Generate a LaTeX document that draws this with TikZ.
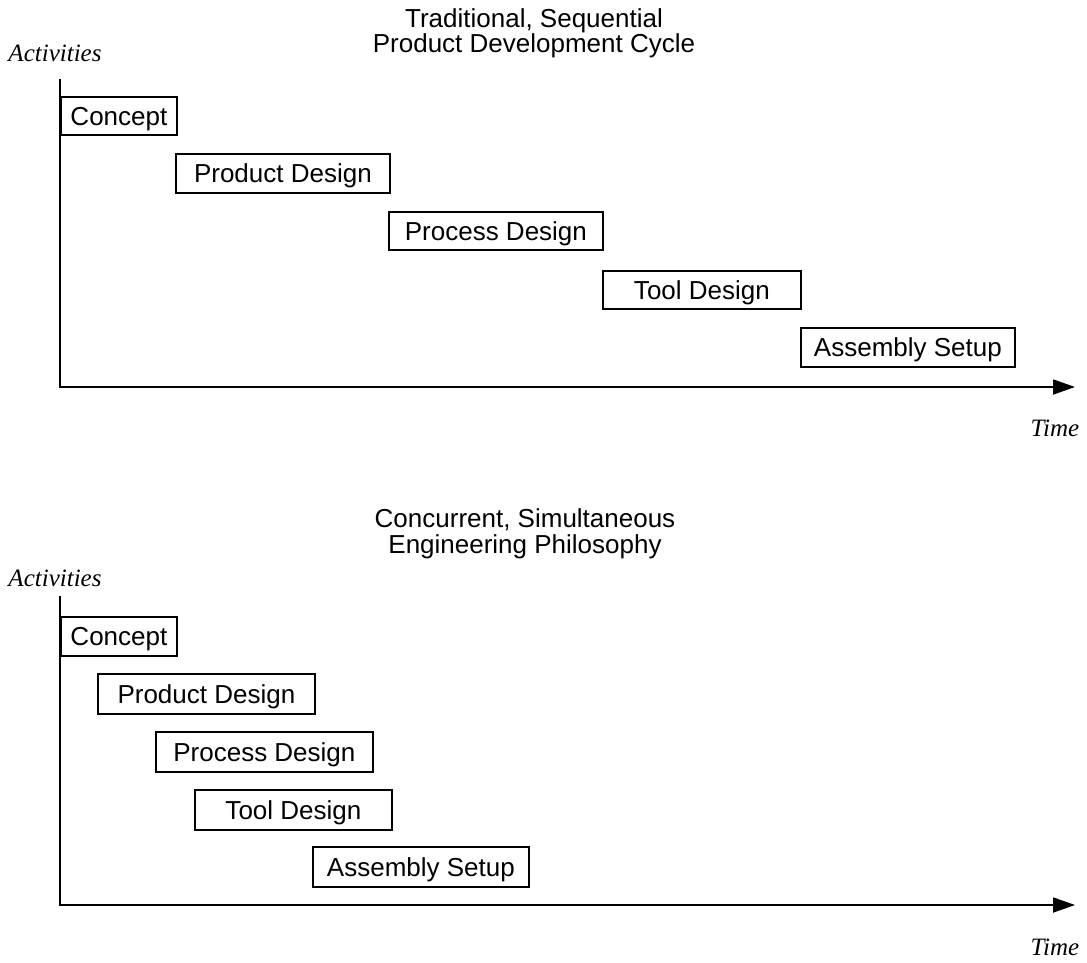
\documentclass[tikz,border=0pt]{standalone}
\usepackage{fontspec}
\setmainfont{Liberation Sans}
\newfontfamily\timesfont{Liberation Serif}
\usetikzlibrary{arrows.meta}
\tikzset{
  phase/.style={draw, line width=1.8pt, inner sep=0pt, anchor=north west,
    text height=18.6pt, text depth=0pt,
    font=\fontsize{26}{26}\selectfont},
  ttl/.style={anchor=base, inner sep=0pt, font=\fontsize{26}{26}\selectfont},
  axlabel/.style={inner sep=0pt, font=\timesfont\itshape\fontsize{25}{25}\selectfont},
  axis/.style={line width=1.8pt, line cap=rect},
  timeaxis/.style={line width=1.8pt, -{Triangle[length=22pt,width=15pt]}}
}
\newcommand{\phasebox}[6]{%
  \node[phase, minimum width={#4-#2}, minimum height={#5-#3}] (#1) at (#2,#3) {#6};}
\begin{document}
\begin{tikzpicture}[x=1pt,y=-1pt]
\fill[white] (0,0) rectangle (1087,962);
\useasboundingbox (0,0) rectangle (1087,962);
% ---------- top diagram ----------
\node[ttl] (t1a) at (534,27) {Traditional, Sequential};
\node[ttl] (t1b) at (534,52) {Product Development Cycle};
\node[axlabel] (act1) at (55,53) {Activities};
\coordinate (top1) at (60,80);
\coordinate (org1) at (60,387);
\coordinate (end1) at (1075,387);
\draw[axis] (top1) -- (org1);
\draw[timeaxis] (org1) -- (end1);
\node[axlabel] (time1) at (1055,428) {Time};
\phasebox{c1}{60}{96}{176}{134}{Concept}
\phasebox{pd1}{175}{153}{389}{192}{Product Design}
\phasebox{pr1}{388}{211}{602}{249}{Process Design}
\phasebox{td1}{602}{270}{800}{308}{Tool Design}
\phasebox{as1}{800}{327}{1014}{366}{Assembly Setup}
% ---------- bottom diagram ----------
\node[ttl] (t2a) at (525,527) {Concurrent, Simultaneous};
\node[ttl] (t2b) at (525,553) {Engineering Philosophy};
\node[axlabel] (act2) at (55,578) {Activities};
\coordinate (top2) at (60,597);
\coordinate (org2) at (60,905);
\coordinate (end2) at (1075,905);
\draw[axis] (top2) -- (org2);
\draw[timeaxis] (org2) -- (end2);
\node[axlabel] (time2) at (1055,947) {Time};
\phasebox{c2}{60}{616}{176}{655}{Concept}
\phasebox{pd2}{97}{673}{314}{713}{Product Design}
\phasebox{pr2}{155}{731}{372}{771}{Process Design}
\phasebox{td2}{194}{789}{391}{829}{Tool Design}
\phasebox{as2}{312}{846}{528}{886}{Assembly Setup}
\end{tikzpicture}
\end{document}
